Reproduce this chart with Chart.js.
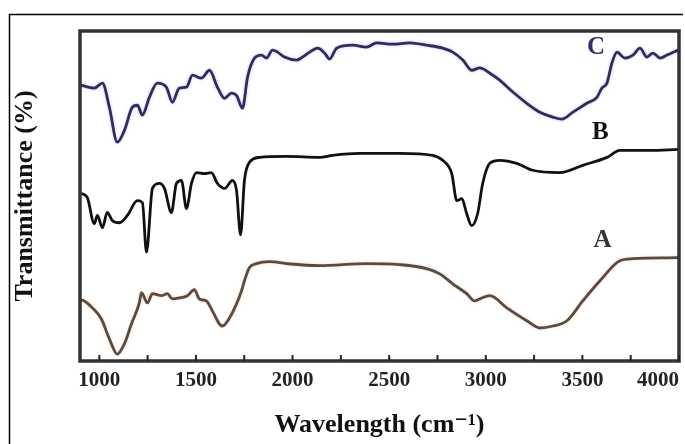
<!DOCTYPE html>
<html>
<head>
<meta charset="utf-8">
<script src="https://cdn.jsdelivr.net/npm/chart.js@4/dist/chart.umd.min.js"></script>
<style>
  html, body { margin: 0; padding: 0; background: #fff; }
  #wrap { width: 685px; height: 444px; position: relative; }
</style>
</head>
<body>
<div id="wrap"><canvas id="ftirChart" width="685" height="444"></canvas></div>
<script>
// wavenumber (cm-1) and transmittance (arbitrary %, curves offset)
const wnC = [905, 974, 1016, 1052, 1093, 1130, 1171, 1197, 1223, 1259, 1300, 1347, 1378, 1414, 1451,
  1482, 1528, 1570, 1611, 1648, 1684, 1710, 1741, 1767, 1803, 1839, 1865, 1896, 1922, 1958,
  2021, 2052, 2088, 2130, 2166, 2192, 2228, 2311, 2383, 2435, 2518, 2606, 2694, 2777, 2829,
  2881, 2927, 2969, 3021, 3072, 3140, 3212, 3280, 3347, 3394, 3451, 3523, 3575, 3601, 3627,
  3653, 3679, 3720, 3762, 3798, 3834, 3865, 3902, 3938, 3995];
const tC = [83.6, 82.7, 84.2, 76.9, 66.3, 69.9, 76.9, 77.5, 74.5, 79.9, 84.2, 83.0, 78.4, 82.7, 83.0,
  86.6, 85.7, 88.1, 83.0, 79.6, 81.2, 80.5, 76.6, 86.0, 91.8, 92.7, 91.8, 94.2, 93.6, 92.1,
  91.2, 92.1, 93.6, 94.8, 93.3, 91.5, 94.8, 95.7, 95.1, 96.4, 96.0, 96.4, 95.7, 94.8, 93.6,
  91.2, 88.1, 88.8, 87.2, 85.1, 81.5, 78.1, 75.4, 73.9, 73.3, 75.4, 78.1, 79.9, 82.7, 84.2,
  90.3, 93.6, 91.8, 92.7, 94.8, 92.1, 93.3, 91.8, 92.7, 94.2];

const wnB = [907, 938, 974, 990, 1016, 1041, 1067, 1104, 1145, 1197, 1223, 1244, 1275, 1311, 1337,
  1373, 1399, 1425, 1451, 1477, 1503, 1544, 1580, 1611, 1648, 1689, 1710, 1731, 1751, 1777,
  1829, 1969, 2140, 2207, 2347, 2554, 2725, 2777, 2824, 2850, 2876, 2901, 2927, 2958, 2984,
  3021, 3072, 3160, 3243, 3383, 3502, 3627, 3694, 3850, 3995];
const tB = [50.8, 49.5, 41.6, 44.1, 40.4, 45.0, 42.6, 41.9, 44.1, 48.6, 48.0, 33.0, 52.3, 53.8, 52.3,
  45.0, 53.8, 54.7, 46.2, 53.8, 57.1, 56.8, 57.1, 53.8, 52.3, 54.7, 51.7, 38.2, 54.7, 60.2,
  61.7, 62.0, 61.7, 62.3, 62.9, 62.9, 62.3, 60.8, 56.8, 48.6, 49.2, 44.7, 41.0, 44.7, 53.8,
  59.9, 60.8, 59.9, 57.8, 57.1, 59.3, 61.7, 63.8, 63.8, 64.1];

const wnA = [905, 922, 964, 1010, 1052, 1093, 1130, 1166, 1207, 1218, 1249, 1275, 1321, 1352, 1378,
  1414, 1456, 1492, 1518, 1554, 1585, 1622, 1637, 1674, 1710, 1736, 1751, 1777, 1813, 1881,
  1969, 2140, 2383, 2554, 2694, 2762, 2829, 2901, 2943, 2979, 3021, 3109, 3212, 3280, 3347,
  3420, 3502, 3591, 3694, 3762, 3995];
const tA = [18.5, 18.2, 16.1, 12.8, 6.7, 2.1, 5.2, 11.2, 17.6, 20.7, 17.6, 20.4, 19.8, 20.4, 18.8,
  19.1, 19.8, 21.6, 18.8, 18.2, 15.2, 11.2, 10.6, 13.1, 17.3, 21.3, 24.3, 28.3, 29.5, 30.1,
  29.5, 28.9, 29.5, 29.2, 28.0, 26.4, 23.4, 20.4, 18.2, 19.1, 19.8, 16.1, 12.2, 10.0, 10.6,
  12.2, 18.2, 24.3, 30.4, 31.0, 31.3];

const xTicks = [1000, 1250, 1500, 1750, 2000, 2250, 2500, 2750, 3000, 3250, 3500, 3750, 4000];
const curveNames = ['C', 'B', 'A'];
const nameX = [3571, 3593, 3604];
const nameY = [95.1, 69.3, 36.5];

const serif = '"Liberation Serif", "DejaVu Serif", serif';

function toPoints(xs, ys) {
    return xs.map((x, i) => ({ x: x, y: ys[i] }));
}

const framePlugin = {
    id: 'frame',
    beforeDatasetDraw(chart, args) {
        // faint coloured halo round the scanned lines
        const glow = ['rgba(90,90,220,0.35)', 'rgba(0,0,0,0)', 'rgba(230,150,80,0.35)'];
        chart.ctx.save();
        chart.ctx.shadowColor = glow[args.index];
        chart.ctx.shadowBlur = 3;
    },
    afterDatasetDraw(chart) {
        chart.ctx.restore();
    },
    afterDraw(chart) {
        const ctx = chart.ctx;
        const a = chart.chartArea;
        const xs = chart.scales.x, ys = chart.scales.y;
        ctx.save();
        // outer picture frame (top + left only)
        ctx.strokeStyle = '#000';
        ctx.lineWidth = 1.5;
        ctx.beginPath();
        ctx.moveTo(9.5, 444);
        ctx.lineTo(9.5, 14.5);
        ctx.lineTo(683, 14.5);
        ctx.stroke();
        // plot box
        ctx.strokeStyle = '#333';
        ctx.lineWidth = 3.5;
        ctx.strokeRect(a.left, a.top, a.right - a.left, a.bottom - a.top);
        // inward ticks
        ctx.lineWidth = 2;
        ctx.strokeStyle = '#222';
        xs.ticks.forEach(t => {
            const px = xs.getPixelForValue(t.value);
            ctx.beginPath();
            ctx.moveTo(px, a.bottom);
            ctx.lineTo(px, a.bottom - 6);
            ctx.stroke();
        });
        // curve names
        ctx.font = 'bold 25px ' + serif;
        ctx.textAlign = 'center';
        ctx.textBaseline = 'middle';
        const colors = ['#2e2e70', '#111', '#333'];
        curveNames.forEach((n, i) => {
            ctx.fillStyle = colors[i];
            ctx.fillText(n, xs.getPixelForValue(nameX[i]), ys.getPixelForValue(nameY[i]));
        });
        ctx.restore();
    }
};

const ctx = document.getElementById('ftirChart').getContext('2d');
new Chart(ctx, {
    type: 'line',
    data: {
        datasets: [{
            label: 'C',
            data: toPoints(wnC, tC),
            borderColor: '#2d2d62',
        }, {
            label: 'B',
            data: toPoints(wnB, tB),
            borderColor: '#111111',
        }, {
            label: 'A',
            data: toPoints(wnA, tA),
            borderColor: '#5a4a42',
        }]
    },
    options: {
        responsive: false,
        animation: false,
        layout: { padding: { top: 31, right: 0, left: 0, bottom: 0 } },
        elements: {
            point: { radius: 0 },
            line: { borderWidth: 2.8, tension: 0.3, cubicInterpolationMode: 'monotone' }
        },
        plugins: {
            legend: { display: false },
            tooltip: { enabled: false }
        },
        scales: {
            x: {
                type: 'linear',
                min: 900,
                max: 4000,
                afterBuildTicks: s => { s.ticks = xTicks.map(v => ({ value: v })); },
                afterFit: s => { s.height = 83; s.paddingLeft = 0; s.paddingRight = 6; },
                grid: { display: false, drawTicks: false },
                border: { display: false },
                ticks: {
                    padding: 9,
                    maxRotation: 0,
                    autoSkip: false,
                    color: '#222',
                    font: { family: serif, weight: 'bold', size: 21, lineHeight: 1 },
                    // last label sits left of its tick, as in the scan
                    callback: v => (v === 4000 ? '4000\u2002\u2002\u2002\u2002' : (v % 500 === 0 ? String(v) : ''))
                },
                title: {
                    display: true,
                    text: 'Wavelength (cm\u207B\u00B9)',
                    color: '#111',
                    padding: { top: 0, bottom: 6 },
                    font: { family: serif, weight: 'bold', size: 26, lineHeight: 1 }
                }
            },
            y: {
                min: 0,
                max: 100,
                afterFit: s => { s.width = 80; s.paddingTop = 0; s.paddingBottom = 0; },
                grid: { display: false, drawTicks: false },
                border: { display: false },
                ticks: { display: false },
                title: {
                    display: true,
                    text: 'Transmittance (%)',
                    color: '#111',
                    padding: { top: 12, bottom: 0 },
                    font: { family: serif, weight: 'bold', size: 26, lineHeight: 1 }
                }
            }
        }
    },
    plugins: [framePlugin]
});
</script>
</body>
</html>
